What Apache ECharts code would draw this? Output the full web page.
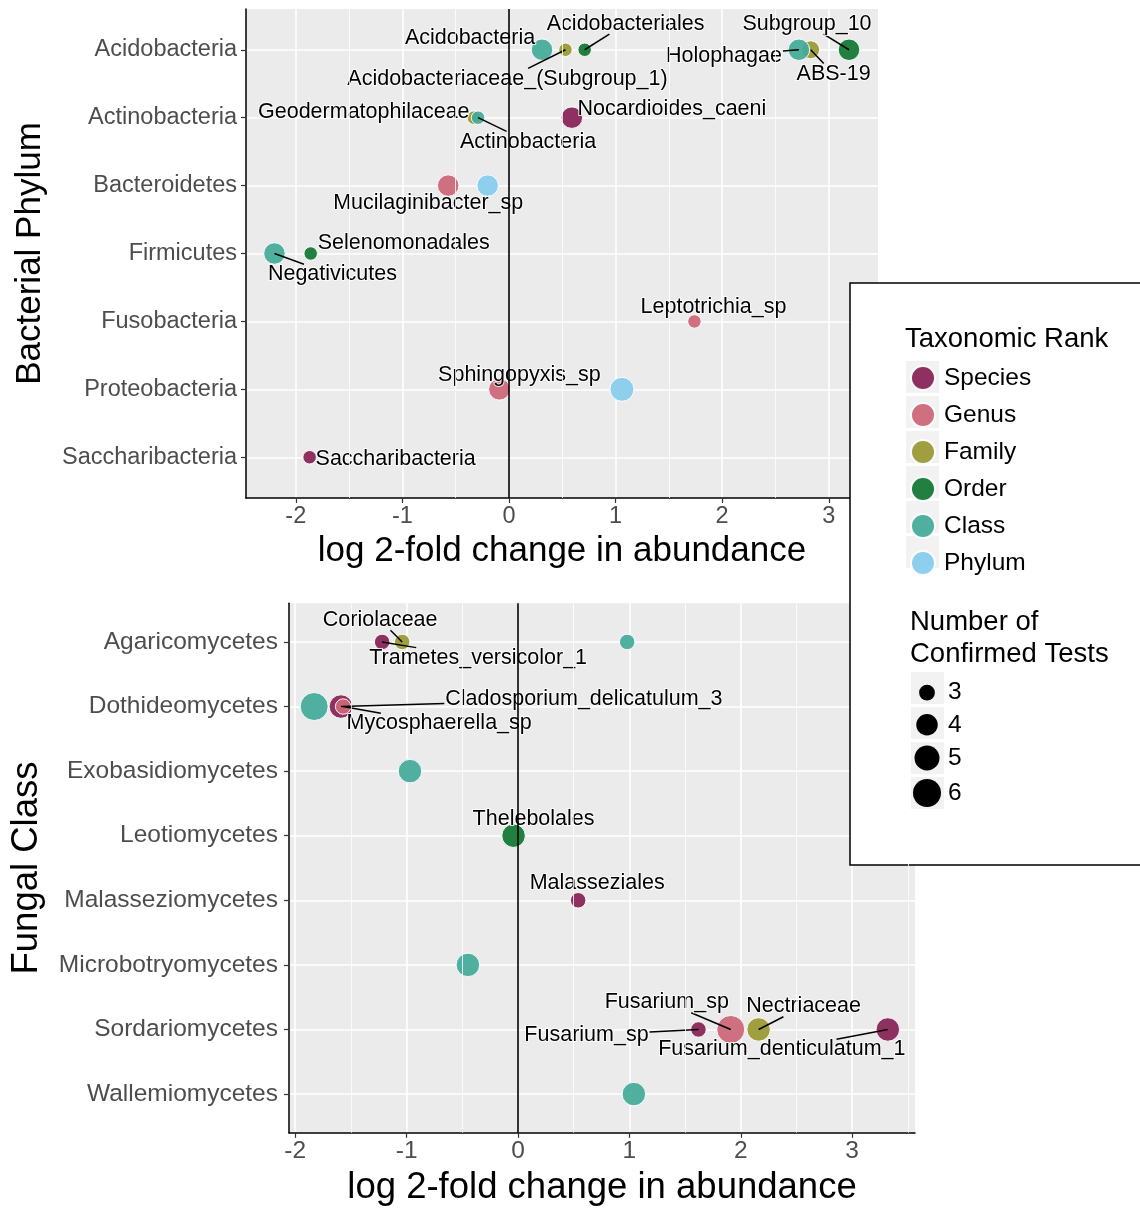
<!DOCTYPE html>
<html>
<head>
<meta charset="utf-8">
<script src="https://cdn.jsdelivr.net/npm/echarts@6/dist/echarts.min.js"></script>
<style>
html,body{margin:0;padding:0;background:#fff;}
#chart{width:1140px;height:1209px;}
</style>
</head>
<body>
<div id="chart"></div>
<script>
// ---------------- DATA ----------------
const rankNames = ['Species', 'Genus', 'Family', 'Order', 'Class', 'Phylum'];
const testLevels = ['3', '4', '5', '6'];
const xTicks = [-2, -1, 0, 1, 2, 3];

// Bacteria panel
const bacPhyla = ['Acidobacteria', 'Actinobacteria', 'Bacteroidetes', 'Firmicutes', 'Fusobacteria', 'Proteobacteria', 'Saccharibacteria'];
const bacTaxa = ['Acidobacteria', 'Acidobacteriaceae_(Subgroup_1)', 'Acidobacteriales', 'Holophagae', 'ABS-19', 'Subgroup_10',
  'Geodermatophilaceae', 'Actinobacteria', 'Nocardioides_caeni', 'Mucilaginibacter_sp', 'Bacteroidetes',
  'Negativicutes', 'Selenomonadales', 'Leptotrichia_sp', 'Sphingopyxis_sp', 'Proteobacteria', 'Saccharibacteria'];
const bacPhylum = ['Acidobacteria', 'Acidobacteria', 'Acidobacteria', 'Acidobacteria', 'Acidobacteria', 'Acidobacteria',
  'Actinobacteria', 'Actinobacteria', 'Actinobacteria', 'Bacteroidetes', 'Bacteroidetes',
  'Firmicutes', 'Firmicutes', 'Fusobacteria', 'Proteobacteria', 'Proteobacteria', 'Saccharibacteria'];
const bacRank = ['Class', 'Family', 'Order', 'Class', 'Family', 'Order',
  'Family', 'Class', 'Species', 'Genus', 'Phylum',
  'Class', 'Order', 'Genus', 'Genus', 'Phylum', 'Species'];
const bacLFC = [0.31, 0.53, 0.71, 2.72, 2.83, 3.19,
  -0.33, -0.29, 0.59, -0.57, -0.20,
  -2.20, -1.86, 1.74, -0.09, 1.06, -1.87];
const bacTests = [5, 3, 3, 5, 4, 5,
  3, 3, 5, 5, 5,
  5, 3, 3, 5, 6, 3];

// Fungi panel
const funClasses = ['Agaricomycetes', 'Dothideomycetes', 'Exobasidiomycetes', 'Leotiomycetes', 'Malasseziomycetes', 'Microbotryomycetes', 'Sordariomycetes', 'Wallemiomycetes'];
const funTaxa = ['Trametes_versicolor_1', 'Coriolaceae', 'Agaricomycetes', 'Dothideomycetes', 'Cladosporium_delicatulum_3', 'Mycosphaerella_sp',
  'Exobasidiomycetes', 'Thelebolales', 'Malasseziales', 'Microbotryomycetes',
  'Fusarium_sp', 'Fusarium_sp', 'Nectriaceae', 'Fusarium_denticulatum_1', 'Wallemiomycetes'];
const funClass = ['Agaricomycetes', 'Agaricomycetes', 'Agaricomycetes', 'Dothideomycetes', 'Dothideomycetes', 'Dothideomycetes',
  'Exobasidiomycetes', 'Leotiomycetes', 'Malasseziomycetes', 'Microbotryomycetes',
  'Sordariomycetes', 'Sordariomycetes', 'Sordariomycetes', 'Sordariomycetes', 'Wallemiomycetes'];
const funRank = ['Species', 'Family', 'Class', 'Class', 'Species', 'Genus',
  'Class', 'Order', 'Species', 'Class',
  'Species', 'Genus', 'Family', 'Species', 'Class'];
const funLFC = [-1.22, -1.04, 0.98, -1.83, -1.59, -1.57,
  -0.97, -0.04, 0.54, -0.45,
  1.62, 1.91, 2.16, 3.32, 1.04];
const funTests = [3, 3, 3, 6, 5, 3,
  5, 5, 3, 5,
  3, 6, 5, 5, 5];

// ---------------- STYLE / LAYOUT ----------------
const rankColors = ['#882255', '#CC6677', '#999933', '#117733', '#44AA99', '#88CCEE'];
const FONT = '"Liberation Sans", Arial, Helvetica, sans-serif';

// label placement (repel-like): [dx, dy, drawLeaderLine] of label centre from point, null = no label
const bacLabelLayout = [[-72, -12, false], [-58, 29, true], [41, -26, true], [-75, 6, true], [23, 24, true], [-42, -26, true],
  [-110, -6, false], [50, 24, true], [100, -9, false], [-20, 17, false], null,
  [58, 21, true], [93, -10, false], [19, -14, false], [20, -14, false], null, [86, 2, false]];
const funLabelLayout = [[96, 16, true], [-22, -22, true], null, null, [243, -7, true], [96, 17, true],
  null, [20, -17, false], [19, -17, false], null,
  [-112, 6, true], [-64, -27, true], [45, -23, true], [-106, 20, true], null];

const panels = [
  {cats: bacPhyla, taxa: bacTaxa, cat: bacPhylum, rank: bacRank, lfc: bacLFC, tests: bacTests, lay: bacLabelLayout,
   grid: {left: 246, top: 9, width: 632, height: 489}, xMin: -2.467, xMax: 3.462,
   sizes: {3: 13.5, 4: 18, 5: 21.5, 6: 24}, tickFont: 23.5, labelFont: 21.5, titleFont: 35,
   yName: 'Bacterial Phylum', yNameGap: 198, xNameGap: 36, xLabelMargin: 7, yLabelMargin: 9},
  {cats: funClasses, taxa: funTaxa, cat: funClass, rank: funRank, lfc: funLFC, tests: funTests, lay: funLabelLayout,
   grid: {left: 289, top: 603.2, width: 626, height: 529.6}, xMin: -2.056, xMax: 3.564,
   sizes: {3: 15.5, 4: 20, 5: 23.5, 6: 28}, tickFont: 24.5, labelFont: 21.5, titleFont: 36.5,
   yName: 'Fungal Class', yNameGap: 244, xNameGap: 37, xLabelMargin: 6, yLabelMargin: 11}
];

const measureCtx = document.createElement('canvas').getContext('2d');
function textWidth(str, size) {
  measureCtx.font = size + 'px ' + FONT;
  return measureCtx.measureText(str).width;
}

const grids = [], xAxes = [], yAxes = [], series = [];

panels.forEach((p, g) => {
  grids.push(Object.assign({show: true, backgroundColor: '#EBEBEB', borderWidth: 0, containLabel: false}, p.grid));
  const minor = [];
  for (let v = Math.ceil(p.xMin - 0.5) + 0.5; v < p.xMax; v += 1) if (v > p.xMin) minor.push(v);

  xAxes.push({
    type: 'value', gridIndex: g, min: p.xMin, max: p.xMax,
    name: 'log 2-fold change in abundance', nameLocation: 'middle', nameGap: p.xNameGap,
    nameTextStyle: {fontSize: p.titleFont, color: '#000', fontFamily: FONT},
    axisLine: {show: true, onZero: false, lineStyle: {color: '#000', width: 1.5}},
    axisTick: {show: true, customValues: xTicks, length: 5, lineStyle: {color: '#333', width: 1.2}},
    axisLabel: {customValues: xTicks, fontSize: p.tickFont, color: '#4D4D4D', margin: p.xLabelMargin, fontFamily: FONT},
    splitLine: {show: true, lineStyle: {color: '#FFFFFF', width: 1.6}}
  });
  yAxes.push({
    type: 'value', gridIndex: g, inverse: true, min: -0.6, max: p.cats.length - 0.4,
    name: p.yName, nameLocation: 'middle', nameGap: p.yNameGap,
    nameTextStyle: {fontSize: p.titleFont, color: '#000', fontFamily: FONT},
    axisLine: {show: true, onZero: false, lineStyle: {color: '#000', width: 1.5}},
    axisTick: {show: true, customValues: p.cats.map((c, i) => i), length: 5, lineStyle: {color: '#333', width: 1.2}},
    axisLabel: {customValues: p.cats.map((c, i) => i), fontSize: p.tickFont, color: '#4D4D4D', margin: p.yLabelMargin,
      fontFamily: FONT, formatter: v => p.cats[Math.round(v)]},
    splitLine: {show: true, lineStyle: {color: '#FFFFFF', width: 1.6}}
  });

  // minor vertical grid lines
  series.push({
    type: 'scatter', xAxisIndex: g, yAxisIndex: g, data: [], z: 1, silent: true,
    markLine: {silent: true, symbol: ['none', 'none'], label: {show: false}, animation: false,
      lineStyle: {color: '#FFFFFF', width: 0.8, type: 'solid', opacity: 1}, emphasis: {disabled: true},
      data: minor.map(v => ({xAxis: v}))}
  });

  rankNames.forEach((rk, r) => {
    const data = [];
    p.taxa.forEach((t, i) => {
      if (p.rank[i] !== rk) return;
      data.push({name: t, value: [p.lfc[i], p.cats.indexOf(p.cat[i]), p.tests[i]]});
    });
    series.push({
      type: 'scatter', name: rk, xAxisIndex: g, yAxisIndex: g, z: 2, data: data,
      symbolSize: v => p.sizes[v[2]],
      itemStyle: {color: rankColors[r], borderColor: '#FFFFFF', borderWidth: 1, opacity: 0.93},
      emphasis: {disabled: true}
    });
  });

  // zero reference line
  series.push({
    type: 'scatter', xAxisIndex: g, yAxisIndex: g, data: [], z: 3, silent: true,
    markLine: {silent: true, symbol: ['none', 'none'], label: {show: false}, animation: false,
      lineStyle: {color: '#000', width: 1.6, type: 'solid', opacity: 1}, emphasis: {disabled: true},
      data: [{xAxis: 0}]}
  });

  // repelled text labels with leader segments (segment: point -> label box along line to label centre)
  const labelData = [];
  p.taxa.forEach((t, i) => {
    if (p.lay[i]) labelData.push([p.lfc[i], p.cats.indexOf(p.cat[i]), i]);
  });
  series.push({
    type: 'custom', xAxisIndex: g, yAxisIndex: g, z: 4, silent: true, data: labelData,
    renderItem: (params, api) => {
      const pt = api.coord([api.value(0), api.value(1)]);
      const i = api.value(2);
      const lay = p.lay[i];
      const text = p.taxa[i];
      const cx = pt[0] + lay[0], cy = pt[1] + lay[1];
      const hw = (textWidth(text, p.labelFont) + 2) / 2, hh = p.labelFont * 0.48;
      const children = [];
      if (lay[2]) {
        const ax = Math.abs(lay[0]), ay = Math.abs(lay[1]);
        const tx = ax > 0 ? (ax - hw) / ax : -Infinity;
        const ty = ay > 0 ? (ay - hh) / ay : -Infinity;
        const t = Math.max(0, Math.min(1, Math.max(tx, ty)));
        children.push({type: 'line', shape: {x1: pt[0], y1: pt[1], x2: pt[0] + t * lay[0], y2: pt[1] + t * lay[1]},
          style: {stroke: '#000', lineWidth: 1.5}});
      }
      children.push({type: 'text', x: cx, y: cy, style: {text: text, fontSize: p.labelFont, fontFamily: FONT,
        fill: '#000', align: 'center', verticalAlign: 'middle', stroke: 'rgba(255,255,255,0.8)', lineWidth: 2}});
      return {type: 'group', children: children};
    }
  });
});

// dummy series for the size legend
testLevels.forEach(t => {
  series.push({type: 'scatter', name: t, xAxisIndex: 0, yAxisIndex: 0, data: [], itemStyle: {color: '#000', opacity: 1}});
});

// ---------------- LEGENDS ----------------
const legendX = 922, rankTop = 377, rankStep = 35, rankIcon = 24;
const sizeX = 927, sizeTop = 688, sizeStep = 35;
const sizeIcons = [15.7, 21.5, 25, 28];

const legends = [{
  data: rankNames, orient: 'vertical', left: legendX - rankIcon / 2, top: rankTop - rankIcon / 2, padding: 0,
  itemWidth: rankIcon, itemHeight: rankIcon, itemGap: rankStep - rankIcon, icon: 'circle', selectedMode: false, z: 10,
  textStyle: {fontSize: 24.5, lineHeight: 24, color: '#000', fontFamily: FONT, padding: [0, 0, 0, 4]}
}];
testLevels.forEach((t, i) => {
  const d = sizeIcons[i];
  legends.push({
    data: [t], orient: 'vertical', left: sizeX - d / 2, top: sizeTop + i * sizeStep - d / 2,
    itemWidth: d, itemHeight: d, icon: 'circle', selectedMode: false, z: 10, padding: 0,
    textStyle: {fontSize: 24.5, lineHeight: d, color: '#000', fontFamily: FONT, padding: [0, 0, 0, 16 - d / 2]}
  });
});

const graphics = [
  {type: 'rect', z: 5, shape: {x: 850, y: 283, width: 300, height: 582}, style: {fill: '#FFFFFF', stroke: '#000', lineWidth: 1.5}},
  {type: 'text', z: 7, style: {text: 'Taxonomic Rank', x: 905, y: 339, fontSize: 27.5, fontFamily: FONT, fill: '#000', verticalAlign: 'middle'}},
  {type: 'text', z: 7, style: {text: 'Number of', x: 910, y: 622, fontSize: 27.5, fontFamily: FONT, fill: '#000', verticalAlign: 'middle'}},
  {type: 'text', z: 7, style: {text: 'Confirmed Tests', x: 910, y: 654, fontSize: 27.5, fontFamily: FONT, fill: '#000', verticalAlign: 'middle'}}
];
rankNames.forEach((r, i) => graphics.push({type: 'rect', z: 6,
  shape: {x: 906, y: rankTop + i * rankStep - 16, width: 33, height: 32}, style: {fill: '#F2F2F2'}}));
testLevels.forEach((t, i) => graphics.push({type: 'rect', z: 6,
  shape: {x: 911, y: sizeTop + i * sizeStep - 16, width: 33, height: 32}, style: {fill: '#F2F2F2'}}));

const chart = echarts.init(document.getElementById('chart'), null, {renderer: 'canvas'});
chart.setOption({
  animation: false,
  backgroundColor: '#FFFFFF',
  textStyle: {fontFamily: FONT},
  grid: grids,
  xAxis: xAxes,
  yAxis: yAxes,
  legend: legends,
  graphic: graphics,
  series: series
});
</script>
</body>
</html>
